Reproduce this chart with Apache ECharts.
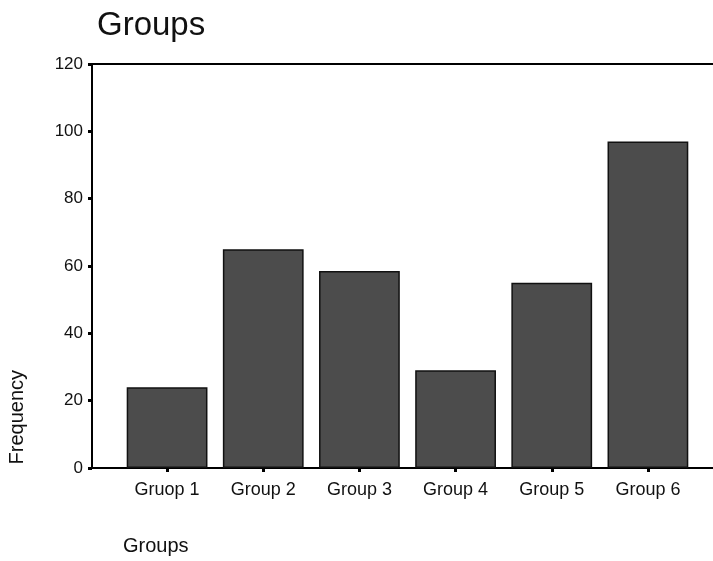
<!DOCTYPE html>
<html><head><meta charset="utf-8">
<script src="https://cdn.jsdelivr.net/npm/echarts@6/dist/echarts.min.js"></script>
<style>html,body{margin:0;padding:0;background:#fff}#c{width:713px;height:561px}</style>
</head><body><div id="c"></div>
<script>
var categories = ['Gruop 1','Group 2','Group 3','Group 4','Group 5','Group 6'];
var frequency = [24, 65, 58.5, 29, 55, 97];
var yTicks = {min: 0, max: 120, interval: 20};
var titleText = 'Groups';
var xName = 'Groups';
var yName = 'Frequency';

var font = '"Liberation Sans", Arial, sans-serif';
var chart = echarts.init(document.getElementById('c'));
chart.setOption({
  animation: false,
  backgroundColor: '#fff',
  title: {text: titleText, left: 92, top: 4, textStyle: {fontFamily: font, fontSize: 33, fontWeight: 'normal', color: '#111'}},
  graphic: [
    {type: 'text', left: 123, top: 536, style: {text: xName, font: '20px ' + font, fill: '#111'}},
    {type: 'text', left: 7, top: 370, rotation: Math.PI/2, style: {text: yName, font: '20px ' + font, fill: '#111'}}
  ],
  grid: [
    {left: 119, right: 17, top: 64, bottom: 93},
    {left: 92, right: 0, top: 64, bottom: 93}
  ],
  xAxis: [
    {type: 'category', gridIndex: 0, data: categories,
     axisLine: {show: false},
     axisTick: {show: true, alignWithLabel: true, length: 4, lineStyle: {color: '#000', width: 3}},
     axisLabel: {margin: 13, fontFamily: font, fontSize: 18, color: '#111'}},
    {type: 'value', gridIndex: 1, position: 'bottom', min: 0, max: 1,
     axisLine: {show: true, lineStyle: {color: '#000', width: 2}}, axisTick: {show: false}, axisLabel: {show: false}, splitLine: {show: false}},
    {type: 'value', gridIndex: 1, position: 'top', min: 0, max: 1,
     axisLine: {show: true, lineStyle: {color: '#000', width: 2}}, axisTick: {show: false}, axisLabel: {show: false}, splitLine: {show: false}}
  ],
  yAxis: [
    {type: 'value', gridIndex: 0, min: yTicks.min, max: yTicks.max, interval: yTicks.interval, offset: 27,
     axisLine: {show: true, lineStyle: {color: '#000', width: 2}},
     axisTick: {show: true, length: 4, lineStyle: {color: '#000', width: 3}},
     axisLabel: {margin: 9, fontFamily: font, fontSize: 17, color: '#111'},
     splitLine: {show: false}},
    {type: 'value', gridIndex: 1, min: 0, max: 1, show: false}
  ],
  series: [{
    type: 'bar', xAxisIndex: 0, yAxisIndex: 0, data: frequency, barCategoryGap: '16%',
    itemStyle: {color: '#4c4c4c', borderColor: '#111', borderWidth: 1.5}
  }]
});
</script></body></html>
